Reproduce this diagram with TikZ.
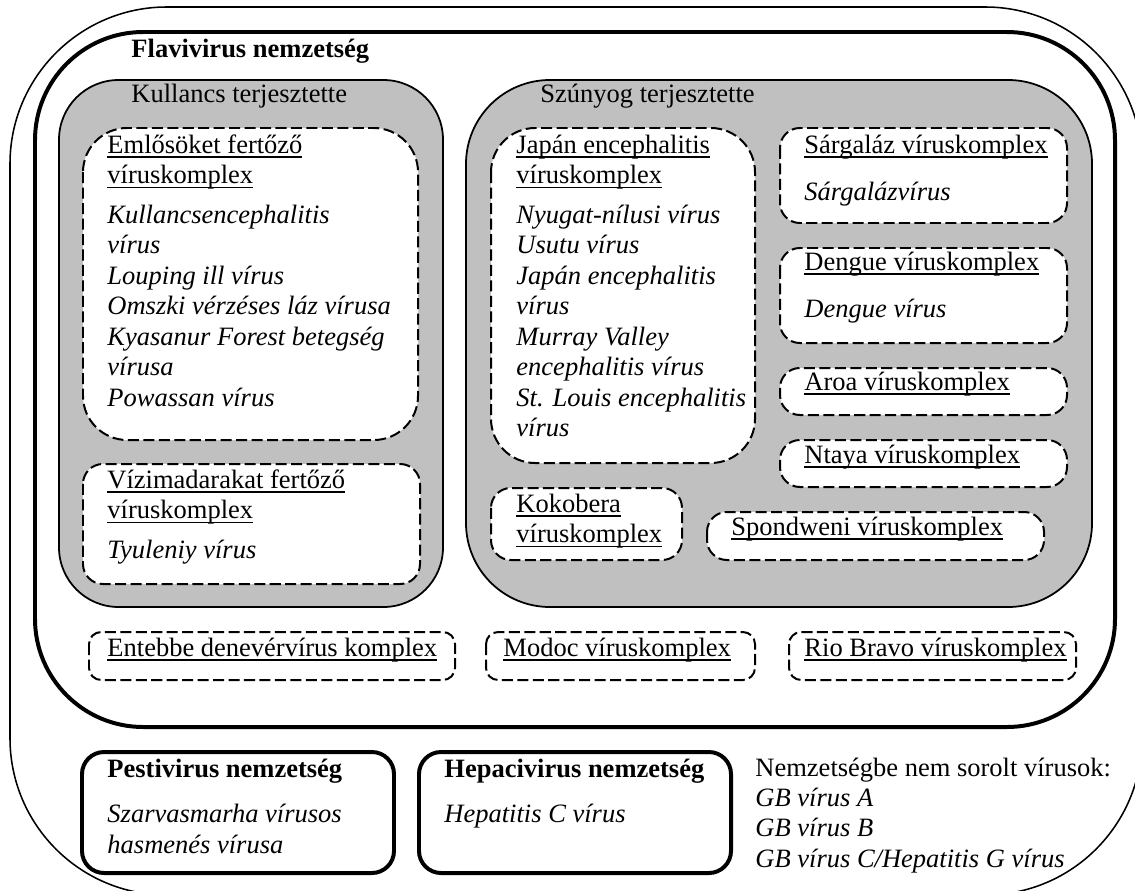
\documentclass[tikz,border=0pt]{standalone}
\usepackage{fontspec}
\setmainfont{Liberation Serif}
\definecolor{boxgray}{RGB}{192,192,192}
\newsavebox\ulbox
\newcommand{\uln}[1]{\sbox\ulbox{#1}\rlap{\rule[-2.2pt]{\wd\ulbox}{0.8pt}}\usebox\ulbox}
\newcommand{\stack}[1]{\vtop{\halign{##\hfil\cr#1\crcr}}}
\newcommand{\gap}[1]{\noalign{\vskip#1}}
\begin{document}
\begin{tikzpicture}[x=0.4528pt,y=-0.4528pt,
  every node/.style={inner sep=0pt,anchor=base west,font=\fontsize{12}{13.8}\selectfont},
  outer/.style={draw,line width=0.7pt,rounded corners=71pt},
  genus/.style={draw,line width=1.8pt,rounded corners=#1},
  grp/.style={draw,fill=boxgray,line width=0.8pt,rounded corners=#1},
  cplx/.style={draw,fill=white,line width=0.9pt,dash pattern=on 5pt off 2pt,rounded corners=#1}]
  \clip (0,0) rectangle (1135,890);
  % whole family
  \draw[outer] (10,7) rectangle (1142,895);
  % Flavivirus
  \draw[genus=49pt] (35,32) rectangle (1115,727);
  \node[font=\fontsize{12}{13.8}\selectfont\bfseries] (flav) at (131,57) {Flavivirus nemzetség};
  % tick-borne group
  \draw[grp=27pt] (59,80) rectangle (443,607);
  \node (kull) at (131,102) {Kullancs terjesztette};
  \draw[cplx=20pt] (83,128) rectangle (418,440);
  \node (emlos) at (107,153) {\stack{\uln{Emlősöket fertőző}\cr \uln{víruskomplex}\cr\gap{4.3pt}
    \textit{Kullancsencephalitis}\cr \textit{vírus}\cr \textit{Louping ill vírus}\cr
    \textit{Omszki vérzéses láz vírusa}\cr \textit{Kyasanur Forest betegség}\cr
    \textit{vírusa}\cr \textit{Powassan vírus}}};
  \draw[cplx=9pt] (83,464) rectangle (420,584);
  \node (vizi) at (107,488) {\stack{\uln{Vízimadarakat fertőző}\cr \uln{víruskomplex}\cr\gap{4.3pt}
    \textit{Tyuleniy vírus}}};
  % mosquito-borne group
  \draw[grp=38pt] (466,80) rectangle (1092,607);
  \node (szuny) at (540,102) {Szúnyog terjesztette};
  \draw[cplx=20pt] (491,128) rectangle (755,463);
  \node (japan) at (516,153) {\stack{\uln{Japán encephalitis}\cr \uln{víruskomplex}\cr\gap{4.3pt}
    \textit{Nyugat-nílusi vírus}\cr \textit{Usutu vírus}\cr \textit{Japán encephalitis}\cr
    \textit{vírus}\cr \textit{Murray Valley}\cr \textit{encephalitis vírus}\cr
    \textit{St. Louis encephalitis}\cr \textit{vírus}}};
  \draw[cplx=9pt] (780,128) rectangle (1067,223);
  \node (sarga) at (804,153) {\stack{\uln{Sárgaláz víruskomplex}\cr\gap{7.5pt} \textit{Sárgalázvírus}}};
  \draw[cplx=9pt] (780,248) rectangle (1067,343);
  \node (dengue) at (804,270) {\stack{\uln{Dengue víruskomplex}\cr\gap{7.5pt} \textit{Dengue vírus}}};
  \draw[cplx=9pt] (780,368) rectangle (1067,415);
  \node (aroa) at (804,390) {\uln{Aroa víruskomplex}};
  \draw[cplx=9pt] (780,440) rectangle (1067,487);
  \node (ntaya) at (804,463) {\uln{Ntaya víruskomplex}};
  \draw[cplx=9pt] (491,488) rectangle (682,560);
  \node (koko) at (516,512) {\stack{\uln{Kokobera}\cr \uln{víruskomplex}}};
  \draw[cplx=9pt] (707,512) rectangle (1044,560);
  \node (spond) at (731,535) {\uln{Spondweni víruskomplex}};
  % unassigned complexes
  \draw[cplx=5.5pt] (89,632) rectangle (455,680);
  \node (entebbe) at (107,656) {\uln{Entebbe denevérvírus komplex}};
  \draw[cplx=5.5pt] (486,632) rectangle (755,680);
  \node (modoc) at (503,656) {\uln{Modoc víruskomplex}};
  \draw[cplx=5.5pt] (789,632) rectangle (1076,680);
  \node (rio) at (804,656) {\uln{Rio Bravo víruskomplex}};
  % other genera
  \draw[genus=10pt] (82,752) rectangle (394,873);
  \node (pesti) at (107,777) {\stack{\textbf{Pestivirus nemzetség}\cr\gap{7pt}
    \textit{Szarvasmarha vírusos}\cr \textit{hasmenés vírusa}}};
  \draw[genus=10pt] (419,752) rectangle (731,873);
  \node (hepa) at (444,777) {\stack{\textbf{Hepacivirus nemzetség}\cr\gap{7pt} \textit{Hepatitis C vírus}}};
  \node (unclass) at (755,776) {\stack{Nemzetségbe nem sorolt vírusok:\cr \textit{GB vírus A}\cr
    \textit{GB vírus B}\cr \textit{GB vírus C/Hepatitis G vírus}}};
\end{tikzpicture}
\end{document}
